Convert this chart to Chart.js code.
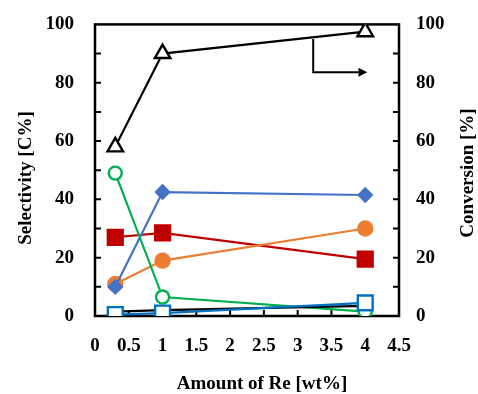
<!DOCTYPE html>
<html><head><meta charset="utf-8">
<script src="https://cdn.jsdelivr.net/npm/chart.js@4"></script>
<style>html,body{margin:0;padding:0;background:#fff}</style></head>
<body><canvas id="c" width="478" height="394"></canvas>
<script>
const reAmount = [0.3, 1, 4];
const conversion = [58, 90, 97.5];
const selGreen = [49, 6.5, 1.5];
const selDiamond = [10, 42.5, 41.5];
const selOrange = [11, 19, 30];
const selRed = [27, 28.5, 19.5];
const selBlack = [1.5, 2, 3.5];
const selSquare = [0.5, 1, 4.5];
const xTickLabels = ['0','0.5','1','1.5','2','2.5','3','3.5','4','4.5'];
const yTickLabels = ['0','20','40','60','80','100'];
const xTitle = 'Amount of Re [wt%]';
const yTitle = 'Selectivity [C%]';
const y2Title = 'Conversion [%]';

const FAMILY = '"Liberation Serif", "Times New Roman", serif';
const FONT = 'bold 19px ' + FAMILY;
const pts = arr => arr.map((v, i) => ({x: reAmount[i], y: v}));

function ds(data, color, style, radius, fill, axis) {
  return {
    data: pts(data), yAxisID: axis || 'y', borderColor: color, borderWidth: 2.2,
    pointStyle: style, pointRadius: radius, pointHoverRadius: radius,
    pointBackgroundColor: fill, pointBorderColor: color, pointBorderWidth: 2.4,
    tension: 0
  };
}

const decor = {
  id: 'decor',
  beforeDatasetsDraw(chart) {
    const {ctx, chartArea: a, scales} = chart;
    ctx.save();
    ctx.strokeStyle = '#000';
    ctx.lineWidth = 2.5;
    ctx.strokeRect(a.left, a.top, a.right - a.left, a.bottom - a.top);
    ctx.lineWidth = 2;
    ctx.beginPath();
    for (let v = 10; v < 100; v += 10) {
      const yp = scales.y.getPixelForValue(v);
      ctx.moveTo(a.left, yp); ctx.lineTo(a.left + 6, yp);
      const yp2 = scales.y2.getPixelForValue(v);
      ctx.moveTo(a.right, yp2); ctx.lineTo(a.right - 6, yp2);
    }
    for (let v = 0.5; v < 4.5; v += 0.5) {
      const xp = scales.x.getPixelForValue(v);
      ctx.moveTo(xp, a.bottom); ctx.lineTo(xp, a.bottom - 6);
    }
    ctx.stroke();
    ctx.restore();
  },
  afterDatasetsDraw(chart) {
    const {ctx, scales} = chart;
    const x = scales.x, y = scales.y2;
    ctx.save();
    ctx.strokeStyle = '#000'; ctx.fillStyle = '#000'; ctx.lineWidth = 2;
    const x0 = x.getPixelForValue(3.23), y0 = y.getPixelForValue(95), y1 = y.getPixelForValue(83.6);
    const x1 = x.getPixelForValue(3.9), xt = x.getPixelForValue(4.03);
    ctx.beginPath();
    ctx.moveTo(x0, y0); ctx.lineTo(x0, y1); ctx.lineTo(x1, y1); ctx.stroke();
    ctx.beginPath();
    ctx.moveTo(xt, y1); ctx.lineTo(x1, y1 - 4.5); ctx.lineTo(x1, y1 + 4.5); ctx.closePath(); ctx.fill();
    // titles
    ctx.font = FONT; ctx.textAlign = 'center'; ctx.textBaseline = 'middle';
    ctx.fillText(xTitle, 262, 384);
    ctx.save(); ctx.translate(26, 178); ctx.rotate(-Math.PI / 2); ctx.fillText(yTitle, 0, 0); ctx.restore();
    ctx.save(); ctx.translate(468, 173); ctx.rotate(-Math.PI / 2); ctx.fillText(y2Title, 0, 0); ctx.restore();
    ctx.restore();
  }
};

const tickFont = {family: FAMILY, size: 19, weight: 'bold'};

new Chart(document.getElementById('c'), {
  type: 'line',
  data: {
    datasets: [
      ds(selSquare, '#0070C0', 'rect', 10.5, '#fff'),
      ds(selBlack, '#000', 'crossRot', 6, '#000'),
      ds(selGreen, '#00B050', 'circle', 6.5, '#fff'),
      ds(selDiamond, '#4472C4', 'rectRot', 6.5, '#4472C4'),
      ds(selOrange, '#ED7D31', 'circle', 7, '#ED7D31'),
      ds(selRed, '#C00000', 'rect', 10.5, '#C00000'),
      ds(conversion, '#000', 'triangle', 9, '#fff', 'y2')
    ]
  },
  options: {
    responsive: false, animation: false, devicePixelRatio: 1,
    layout: {padding: {top: 23, left: 0, right: 0, bottom: 0}},
    plugins: {legend: {display: false}, tooltip: {enabled: false}},
    scales: {
      x: {
        type: 'linear', min: 0, max: 4.5,
        afterBuildTicks: s => { s.ticks = xTickLabels.map(t => ({value: parseFloat(t)})); },
        ticks: {font: tickFont, color: '#000', padding: 11, maxRotation: 0, autoSkip: false,
          callback: (v, i) => xTickLabels[i]},
        grid: {display: false}, border: {display: false},
        afterFit: s => { s.height = 78; }
      },
      y: {
        position: 'left', min: 0, max: 100,
        afterBuildTicks: s => { s.ticks = yTickLabels.map(t => ({value: parseFloat(t)})); },
        ticks: {font: tickFont, color: '#000', padding: 13, callback: (v, i) => yTickLabels[i]},
        grid: {display: false}, border: {display: false},
        afterFit: s => { s.width = 95; }
      },
      y2: {
        position: 'right', min: 0, max: 100,
        afterBuildTicks: s => { s.ticks = yTickLabels.map(t => ({value: parseFloat(t)})); },
        ticks: {font: tickFont, color: '#000', padding: 9, callback: (v, i) => yTickLabels[i]},
        grid: {display: false}, border: {display: false},
        afterFit: s => { s.width = 79; }
      }
    }
  },
  plugins: [decor]
});
</script>
</body></html>
